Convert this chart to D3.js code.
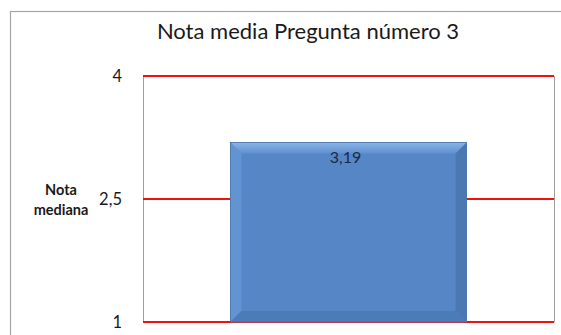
<!DOCTYPE html>
<html>
<head>
<meta charset="utf-8">
<script src="https://cdn.jsdelivr.net/npm/d3@7"></script>
<style>
  html, body { margin: 0; padding: 0; background: #ffffff; }
  svg { display: block; }
</style>
</head>
<body>
<svg id="chart" width="561" height="335"></svg>
<script>
// Chart data
const categories = ["Pregunta 3"];
const values = [3.19];
const tickValues = [1, 2.5, 4];
const tickLabels = ["1", "2,5", "4"];
const chartTitle = "Nota media Pregunta número 3";
const axisTitle = ["Nota", "mediana"];

const svg = d3.select("#chart");
const font = "Lato, 'Open Sans', sans-serif";

const plot = { left: 143, right: 554, top: 76, bottom: 322 };

// Outer chart frame
svg.append("rect")
  .attr("x", 10.5).attr("y", 11.5)
  .attr("width", 620).attr("height", 400)
  .attr("fill", "#ffffff")
  .attr("stroke", "#a6a6a6").attr("stroke-width", 1.2);

const y = d3.scaleLinear().domain([1, 4]).range([plot.bottom, plot.top]);
const x = d3.scaleBand().domain(categories)
  .range([plot.left, plot.right])
  .paddingInner(0.27).paddingOuter(0.27);

// Plot area side borders
svg.append("line")
  .attr("x1", plot.left + 0.5).attr("x2", plot.left + 0.5)
  .attr("y1", plot.top).attr("y2", plot.bottom)
  .attr("stroke", "#a0a0a0").attr("stroke-width", 1);
svg.append("line")
  .attr("x1", plot.right + 0.5).attr("x2", plot.right + 0.5)
  .attr("y1", plot.top).attr("y2", plot.bottom)
  .attr("stroke", "#a0a0a0").attr("stroke-width", 1);

// Red gridlines
svg.append("g").selectAll("line").data(tickValues).join("line")
  .attr("x1", plot.left).attr("x2", plot.right)
  .attr("y1", d => y(d)).attr("y2", d => y(d))
  .attr("stroke", "#f01010").attr("stroke-width", 2.2);

// Y axis tick labels
const yAxis = d3.axisLeft(y).tickValues(tickValues)
  .tickFormat((d, i) => tickLabels[i]).tickSize(0).tickPadding(0);
const gy = svg.append("g").attr("transform", `translate(${plot.left - 21},0)`).call(yAxis);
gy.select(".domain").remove();
gy.selectAll("text")
  .attr("font-family", font).attr("font-size", 16.5).attr("fill", "#1a1a1a");

// Axis title (horizontal, two lines)
const at = svg.append("text")
  .attr("text-anchor", "middle")
  .attr("font-family", font).attr("font-size", 14.5).attr("font-weight", "bold")
  .attr("fill", "#1a1a1a");
axisTitle.forEach((t, i) => {
  at.append("tspan").attr("x", 61).attr("y", 195 + i * 20).text(t);
});

// Bar with bevelled edges
const defs = svg.append("defs");
const gTop = defs.append("linearGradient").attr("id", "bevelTop")
  .attr("x1", 0).attr("y1", 0).attr("x2", 0).attr("y2", 1);
gTop.append("stop").attr("offset", 0).attr("stop-color", "#8ab4e6");
gTop.append("stop").attr("offset", 1).attr("stop-color", "#5f90cf");

const bars = svg.append("g").selectAll("g").data(values).join("g");
bars.each(function (v, i) {
  const g = d3.select(this);
  const x0 = x(categories[i]);
  const x1 = x0 + x.bandwidth();
  const y0 = y(v);
  const y1 = y(1);
  const b = 11;
  // main face
  g.append("rect")
    .attr("x", x0).attr("y", y0)
    .attr("width", x1 - x0).attr("height", y1 - y0)
    .attr("fill", "#5686c5");
  // top bevel
  g.append("polygon")
    .attr("points", [[x0, y0], [x1, y0], [x1 - b, y0 + b], [x0 + b, y0 + b]].join(" "))
    .attr("fill", "url(#bevelTop)");
  // left bevel
  g.append("polygon")
    .attr("points", [[x0, y0], [x0 + b, y0 + b], [x0 + b, y1 - b], [x0, y1]].join(" "))
    .attr("fill", "#6294d2");
  // right bevel
  g.append("polygon")
    .attr("points", [[x1, y0], [x1, y1], [x1 - b, y1 - b], [x1 - b, y0 + b]].join(" "))
    .attr("fill", "#4b78b2");
  // bottom bevel
  g.append("polygon")
    .attr("points", [[x0, y1], [x1, y1], [x1 - b, y1 - b], [x0 + b, y1 - b]].join(" "))
    .attr("fill", "#4c7cb8");
  // outline
  g.append("rect")
    .attr("x", x0).attr("y", y0)
    .attr("width", x1 - x0).attr("height", y1 - y0)
    .attr("fill", "none").attr("stroke", "#4a73a8").attr("stroke-width", 0.8);
  // value label
  g.append("text")
    .attr("x", (x0 + x1) / 2 - 3).attr("y", y0 + 21)
    .attr("text-anchor", "middle")
    .attr("font-family", font).attr("font-size", 16)
    .attr("fill", "#1b2a45")
    .text(String(v).replace(".", ","));
});

// Title
svg.append("text")
  .attr("x", 308).attr("y", 39)
  .attr("text-anchor", "middle")
  .attr("font-family", font).attr("font-size", 22)
  .attr("fill", "#1a1a1a")
  .text(chartTitle);
</script>
</body>
</html>
